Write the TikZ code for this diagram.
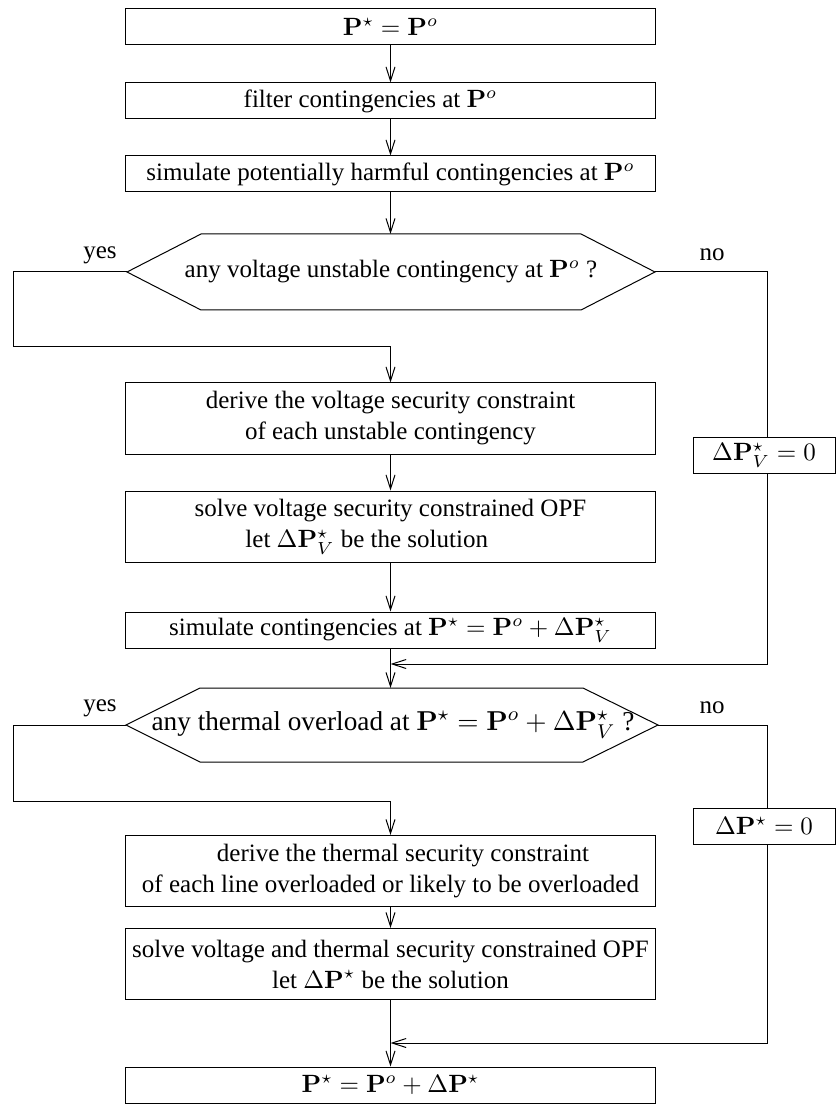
\documentclass[tikz,border=0pt]{standalone}
\usepackage[no-math]{fontspec}
\setmainfont{Liberation Serif}
\usetikzlibrary{arrows.meta}

\newcommand{\Pb}{\mathbf{P}}

\begin{document}
\begin{tikzpicture}[x=0.4pt,y=-0.4pt,
    line width=0.4pt,
    every node/.style={font=\fontsize{10}{12.4}\selectfont},
    box/.style={draw, minimum width=211.6pt, minimum height=14.4pt,
      inner sep=0pt, align=center},
    tallbox/.style={box, minimum height=28.4pt},
    zerobox/.style={draw, minimum width=56.8pt, minimum height=14.4pt,
      inner sep=0pt},
    flow/.style={-{Straight Barb[length=5.6pt,width=3.6pt]}},
    lbl/.style={inner sep=0pt}]
\useasboundingbox (0,0) rectangle (839,1104);

% main column
\node[box] (b1) at (390.5,26.5) {$\Pb^\star=\Pb^o$};
\node[box] (b2) at (390.5,101) {filter contingencies at $\Pb^o$\hspace*{16pt}};
\node[box] (b3) at (390.5,174) {simulate potentially harmful contingencies at $\Pb^o$};

% first decision
\draw (127,272) -- (201,234) -- (581,234) -- (655,272) -- (581,310) -- (201,310) -- cycle;
\coordinate (hA-w) at (127,272);
\coordinate (hA-e) at (655,272);
\coordinate (hA-n) at (390.5,234);
\node (hA) at (391,272) {any voltage unstable contingency at $\Pb^o$ ?};

\node[tallbox] (b4) at (390.5,418.5) {derive the voltage security constraint\\of each unstable contingency};
\node[tallbox] (b5) at (390.5,526.5) {solve voltage security constrained OPF\\let $\Delta\Pb_V^\star$ be the solution\hspace*{19pt}};
\node[box] (b6) at (390.5,630) {simulate contingencies at $\Pb^\star=\Pb^o+\Delta\Pb_V^\star$};
\node[zerobox] (zA) at (764,455) {$\Delta\Pb_V^\star=0$};
\coordinate (cA) at (767,272);
\coordinate (mA) at (390.5,664);

% second decision
\draw (126,725) -- (200,688) -- (583,688) -- (658,725) -- (583,762) -- (200,762) -- cycle;
\coordinate (hB-w) at (126,725);
\coordinate (hB-e) at (658,725);
\coordinate (hB-n) at (390.5,688);
\node[font=\fontsize{10.9}{13}\selectfont] (hB) at (393,725) {any thermal overload at $\Pb^\star=\Pb^o+\Delta\Pb_V^\star$ ?};

\node[tallbox] (b7) at (390.5,871) {\hspace*{10pt}derive the thermal security constraint\\of each line overloaded or likely to be overloaded};
\node[tallbox] (b8) at (390.5,964) {solve voltage and thermal security constrained OPF\\let $\Delta\Pb^\star$ be the solution};
\node[zerobox] (zB) at (764,826) {$\Delta\Pb^\star=0$};
\coordinate (cB) at (767,725);
\coordinate (mB) at (390.5,1043);
\node[box] (b9) at (390.5,1085) {$\Pb^\star=\Pb^o+\Delta\Pb^\star$};

% labels
\node[lbl] (yA) at (100,255) {yes};
\node[lbl] (nA) at (712,255) {no};
\node[lbl] (yB) at (100,708) {yes};
\node[lbl] (nB) at (712,708) {no};

% connectors
\draw[flow] (b1) -- (b2);
\draw[flow] (b2) -- (b3);
\draw[flow] (b3.south) -- (hA-n);
\draw[flow] (hA-w) -- (13,272) -- (13,347) -- (390.5,347) -- (b4.north);
\draw (hA-e) -- (cA) -- (cA |- zA.north);
\draw[flow] (cA |- zA.south) |- (mA);
\draw[flow] (b4) -- (b5);
\draw[flow] (b5) -- (b6);
\draw[flow] (b6.south) -- (hB-n);
\draw[flow] (hB-w) -- (13,725) -- (13,801) -- (390.5,801) -- (b7.north);
\draw (hB-e) -- (cB) -- (cB |- zB.north);
\draw[flow] (cB |- zB.south) |- (mB);
\draw[flow] (b7) -- (b8);
\draw[flow] (b8.south) -- (b9.north);
\end{tikzpicture}
\end{document}
